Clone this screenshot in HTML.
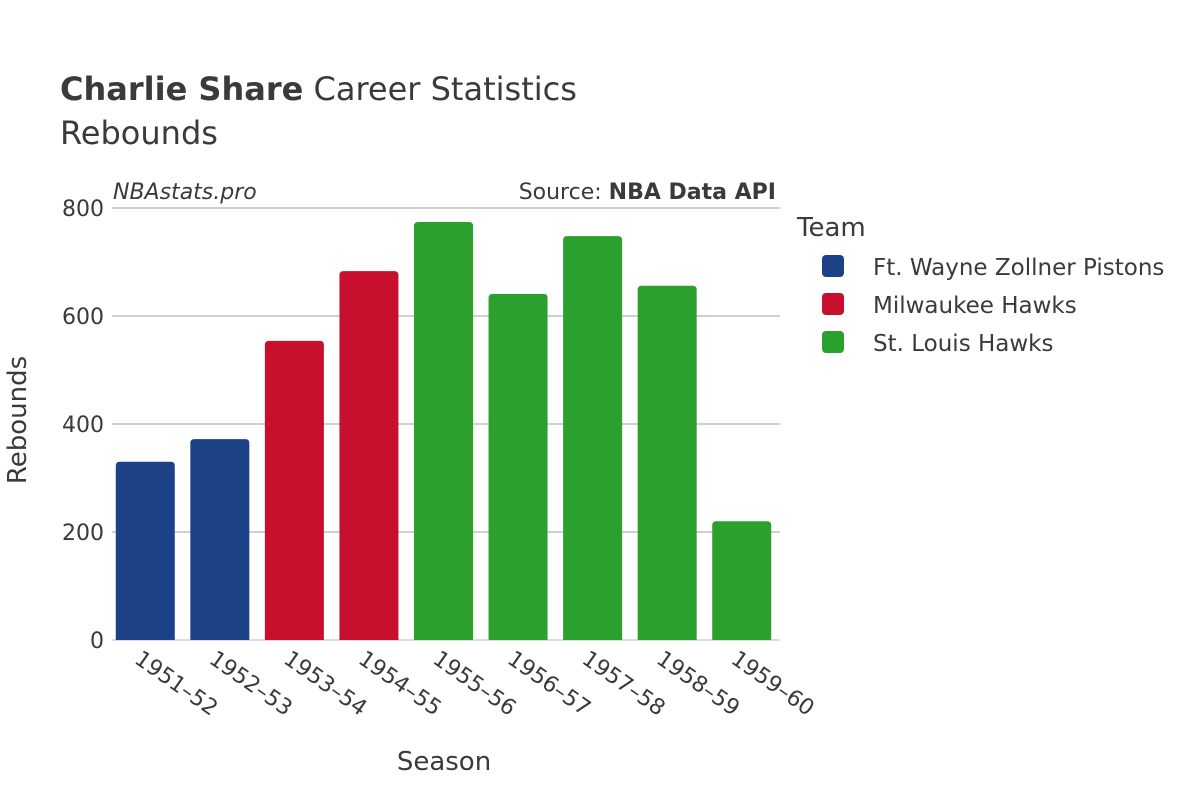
<!DOCTYPE html>
<html><head><meta charset="utf-8"><style>
body{margin:0;background:#fff;font-family:"Liberation Sans","DejaVu Sans",sans-serif;}
svg text{font-family:"DejaVu Sans","Liberation Sans",sans-serif;fill:#3a3a3a;}
</style></head><body>
<svg id="chart" width="1200" height="800">
<text x="60" y="100" font-size="32"><tspan font-weight="bold">Charlie Share</tspan> Career Statistics</text>
<text x="60" y="144" font-size="32">Rebounds</text>
<text x="113" y="199" font-size="22" font-style="italic">NBAstats.pro</text>
<text x="776" y="199" font-size="22" text-anchor="end">Source: <tspan font-weight="bold">NBA Data API</tspan></text>
<g id="grid"></g><g id="bars"></g><g id="xticks"></g>
<text x="444" y="770" font-size="26" text-anchor="middle">Season</text>
<text transform="translate(26,420) rotate(-90)" font-size="26" text-anchor="middle">Rebounds</text>
<text x="797" y="236" font-size="26">Team</text>
<g id="legend"></g>
</svg>
<script>
const seasons=["1951–52","1952–53","1953–54","1954–55","1955–56","1956–57","1957–58","1958–59","1959–60"];
const rebounds=[330,372,554,683,774,641,748,656,220];
const teams=["Ft. Wayne Zollner Pistons","Ft. Wayne Zollner Pistons","Milwaukee Hawks","Milwaukee Hawks","St. Louis Hawks","St. Louis Hawks","St. Louis Hawks","St. Louis Hawks","St. Louis Hawks"];
const legendTeams=["Ft. Wayne Zollner Pistons","Milwaukee Hawks","St. Louis Hawks"];
const teamColors=["#1c4187","#c8102e","#2ca02c"];
const yTicks=[0,200,400,600,800];
const NS="http://www.w3.org/2000/svg";
const x0=108,x1=779,y0=640,y1=208,yMax=800;
const band=(x1-x0)/seasons.length, bw=59;
const y=v=>y0-(v/yMax)*(y0-y1);
const xc=i=>x0+band*(i+0.5);
function mk(t,a,p){const e=document.createElementNS(NS,t);for(const k in a)e.setAttribute(k,a[k]);p.appendChild(e);return e;}
const grid=document.getElementById('grid');
yTicks.forEach(v=>{
 const l=mk('line',{x1:112,x2:780,y1:y(v),y2:y(v),stroke:v===0?'#ddd':'#b5b5b5','stroke-width':v===0?2:1.3},grid);
 
 
 const t=mk('text',{x:104,y:y(v)+8,'font-size':22,'text-anchor':'end'},grid);t.textContent=v;
 
 
});
const bars=document.getElementById('bars'),xt=document.getElementById('xticks');
seasons.forEach((s,i)=>{
 const c=teamColors[legendTeams.indexOf(teams[i])];
 const r=mk('path',{d:`M${xc(i)-bw/2},${y0} V${y(rebounds[i])+4} q0,-4 4,-4 H${xc(i)+bw/2-4} q4,0 4,4 V${y0} Z`,fill:c},bars);
 
 
 const t=mk('text',{x:0,y:0,'font-size':22,transform:`translate(${xc(i)-12},${y0+22}) rotate(35)`},xt);t.textContent=s;
 
 
});
const lg=document.getElementById('legend');
legendTeams.forEach((n,i)=>{
 const g=mk('g',{},lg);
 
 
 mk('rect',{x:822,y:255+i*38,width:22,height:22,rx:4,fill:teamColors[i]},g);
 const t=mk('text',{x:873,y:275+i*38,'font-size':23},g);t.textContent=n;
});
</script>
</body></html>
